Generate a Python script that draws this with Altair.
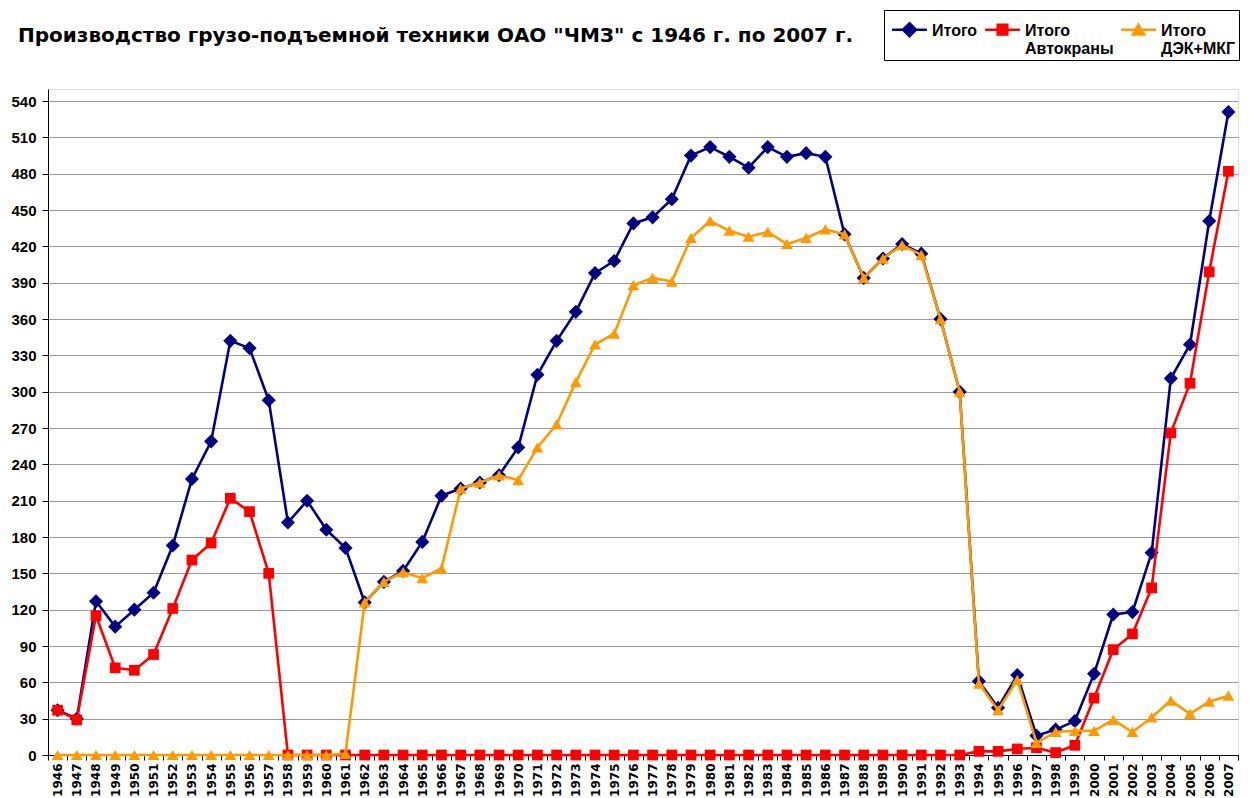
import altair as alt
import pandas as pd

years = list(range(1946, 2008))

total = [37, 30, 127, 106, 120, 134, 173, 228, 259, 342, 336, 293,
         192, 210, 186, 171, 126, 143, 152, 176, 214, 220, 225, 231,
         254, 314, 342, 366, 398, 408, 439, 444, 459, 495, 502, 494,
         485, 502, 494, 497, 494, 430, 394, 410, 422, 414, 360, 300,
         61, 39, 66, 16, 21, 28, 67, 116, 118, 167, 311, 339,
         441, 531]

cranes = [37, 29, 115, 72, 70, 83, 121, 161, 175, 212, 201, 150,
          0, 0, 0, 0, 0, 0, 0, 0, 0, 0, 0, 0,
          0, 0, 0, 0, 0, 0, 0, 0, 0, 0, 0, 0,
          0, 0, 0, 0, 0, 0, 0, 0, 0, 0, 0, 0,
          3, 3, 5, 6, 2, 8, 47, 87, 100, 138, 266, 307,
          399, 482]

dek = [0, 0, 0, 0, 0, 0, 0, 0, 0, 0, 0, 0,
       0, 0, 0, 1, 126, 143, 151, 146, 154, 220, 225, 231,
       227, 254, 273, 308, 339, 348, 388, 394, 391, 427, 441, 433,
       428, 432, 422, 427, 434, 430, 394, 410, 421, 413, 360, 300,
       59, 37, 62, 10, 19, 20, 20, 29, 19, 31, 45, 34,
       44, 49]

series_names = ["Итого", "Итого|Автокраны", "Итого|ДЭК+МКГ"]
series_colors = ["#000080", "#FF0000", "#FF9900"]
series_shapes = ["diamond", "square", "triangle-up"]
series_sizes = [200, 115, 140]
# legend symbols: a short line with the marker, drawn slightly above the row centre
legend_paths = [
    "M-0.83,-0.29H0.83M0,-0.6L0.31,-0.29L0,0.02L-0.31,-0.29Z",
    "M-0.83,-0.29H0.83M-0.23,-0.52H0.23V-0.06H-0.23Z",
    "M-0.83,-0.29H0.83M0,-0.52L0.27,-0.06H-0.27Z",
]
y_ticks = list(range(0, 541, 30))

rows = []
for name, vals in zip(series_names, [total, cranes, dek]):
    for yr, v in zip(years, vals):
        rows.append({"year": str(yr), "series": name, "value": v})
df = pd.DataFrame(rows)

sym_expr = (
    f"datum.value === '{series_names[0]}' ? '{legend_paths[0]}' : "
    f"datum.value === '{series_names[1]}' ? '{legend_paths[1]}' : '{legend_paths[2]}'"
)
col_expr = "scale('color', datum.value)"

legend = alt.Legend(
    title=None,
    orient="none",
    legendX=836,
    legendY=-79,
    direction="horizontal",
    columns=3,
    columnPadding=2,
    labelExpr="indexof(datum.label, '|') < 0 ? [datum.label, ' '] : split(datum.label, '|')",
    labelFont="Liberation Sans",
    labelFontSize=16,
    labelFontWeight="bold",
    labelColor="black",
    labelBaseline="alphabetic",
    labelOffset=0,
    symbolSize=1764,
    symbolStrokeWidth=2.5,
    symbolType={"expr": sym_expr},
    symbolFillColor={"expr": col_expr},
    symbolStrokeColor={"expr": col_expr},
    symbolOpacity=1,
    strokeColor="black",
    padding=3,
)

x_enc = alt.X(
    "year:O",
    scale=alt.Scale(type="band", paddingInner=0, paddingOuter=0),
    bandPosition=0.5,
    axis=alt.Axis(
        title=None, labelAngle=-90, labelFont="DejaVu Sans",
        labelFontSize=12, labelFontWeight="bold", labelColor="black",
        tickBand="extent", tickSize=5, tickColor="black", domainColor="black",
        labelPadding=3, grid=False,
    ),
)
y_enc = alt.Y(
    "value:Q",
    scale=alt.Scale(domain=[0, 550], nice=False, zero=True),
    axis=alt.Axis(
        title=None, values=y_ticks, grid=True, gridColor="#9a9a9a", gridWidth=1.2,
        labelFont="Liberation Sans", labelFontSize=15, labelFontWeight="bold",
        labelColor="black", tickSize=6, tickColor="black", domainColor="black",
        labelPadding=6,
    ),
)
color_enc = alt.Color(
    "series:N",
    scale=alt.Scale(domain=series_names, range=series_colors),
    legend=legend,
)

base = alt.Chart(df)
layers = []
for name, shape, size in zip(series_names, series_shapes, series_sizes):
    sub = base.transform_filter(alt.datum.series == name)
    layers.append(
        sub.mark_line(strokeWidth=2.6).encode(x=x_enc, y=y_enc, color=color_enc)
    )
    layers.append(
        sub.mark_point(filled=True, shape=shape, size=size, opacity=1).encode(
            x=x_enc, y=y_enc, color=color_enc
        )
    )

chart = alt.layer(*layers).properties(
    width=1190,
    height=666,
    autosize=alt.AutoSizeParams(type="none"),
    padding={"left": 40, "top": 81, "right": 3, "bottom": 42},
    title=alt.TitleParams(
        "Производство грузо-подъемной техники ОАО \"ЧМЗ\" с 1946 г. по 2007 г.",
        anchor="start", frame="group", font="DejaVu Sans", fontSize=20,
        fontWeight="bold", color="black", dx=-30, offset=0, dy=36,
    ),
).configure_view(stroke=None).configure(font="Liberation Sans")

chart.save("out.html", embed_options={"renderer": "svg", "actions": False})
